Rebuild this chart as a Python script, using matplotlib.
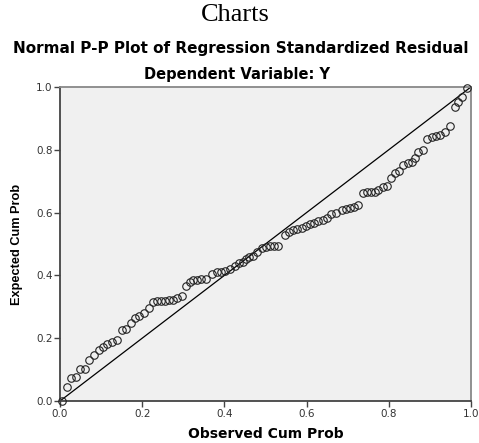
import matplotlib
matplotlib.use("Agg")
from matplotlib import pyplot as plt

# observed / expected cumulative probabilities
observed = [0.004, 0.017, 0.027, 0.039, 0.049, 0.061, 0.071, 0.083, 0.095, 0.105,
            0.115, 0.126, 0.138, 0.150, 0.161, 0.173, 0.182, 0.193, 0.204, 0.216,
            0.226, 0.236, 0.246, 0.255, 0.265, 0.275, 0.285, 0.296, 0.306, 0.316,
            0.324, 0.334, 0.344, 0.355, 0.371, 0.381, 0.392, 0.401, 0.414, 0.426,
            0.436, 0.445, 0.453, 0.461, 0.470, 0.480, 0.491, 0.501, 0.511, 0.521,
            0.531, 0.547, 0.558, 0.568, 0.577, 0.588, 0.598, 0.608, 0.618, 0.628,
            0.639, 0.650, 0.660, 0.672, 0.685, 0.696, 0.706, 0.715, 0.726, 0.738,
            0.747, 0.757, 0.766, 0.774, 0.785, 0.796, 0.805, 0.815, 0.826, 0.835,
            0.846, 0.856, 0.864, 0.872, 0.882, 0.894, 0.904, 0.915, 0.925, 0.937,
            0.949, 0.961, 0.969, 0.977, 0.990]
expected = [0.001, 0.045, 0.072, 0.076, 0.101, 0.103, 0.130, 0.146, 0.161, 0.173,
            0.182, 0.188, 0.195, 0.226, 0.228, 0.248, 0.264, 0.272, 0.280, 0.295,
            0.314, 0.317, 0.318, 0.319, 0.320, 0.322, 0.327, 0.335, 0.366, 0.380,
            0.385, 0.386, 0.388, 0.389, 0.403, 0.410, 0.411, 0.414, 0.420, 0.430,
            0.439, 0.444, 0.452, 0.460, 0.463, 0.475, 0.486, 0.490, 0.492, 0.494,
            0.495, 0.529, 0.539, 0.545, 0.548, 0.552, 0.557, 0.562, 0.567, 0.572,
            0.577, 0.583, 0.594, 0.600, 0.608, 0.611, 0.614, 0.617, 0.624, 0.663,
            0.667, 0.667, 0.667, 0.672, 0.682, 0.685, 0.709, 0.725, 0.733, 0.752,
            0.757, 0.762, 0.773, 0.792, 0.799, 0.833, 0.842, 0.845, 0.847, 0.858,
            0.876, 0.935, 0.951, 0.969, 0.995]
ticks = [0.0, 0.2, 0.4, 0.6, 0.8, 1.0]
tick_labels = ["0.0", "0.2", "0.4", "0.6", "0.8", "1.0"]

fig = plt.figure(figsize=(4.79, 4.43), dpi=100)
ax = fig.add_axes([0.1253, 0.0948, 0.858, 0.709])
ax.set_facecolor("#f0f0f0")

# reference line
ax.plot([0, 1], [0, 1], color="black", linewidth=0.9, zorder=2)
ax.plot(observed, expected, linestyle="none", marker="o", markersize=5.4,
        markerfacecolor="none", markeredgecolor="#222222", markeredgewidth=0.8,
        zorder=3, clip_on=False)

ax.set_xlim(0, 1)
ax.set_ylim(0, 1)
ax.set_xticks(ticks)
ax.set_xticklabels(tick_labels)
ax.set_yticks(ticks)
ax.set_yticklabels(tick_labels)
ax.tick_params(direction="out", length=4, width=1, color="#444444",
               labelsize=7.5, labelcolor="#333333", pad=1.5)

for side in ["left", "bottom"]:
    ax.spines[side].set_color("#444444")
    ax.spines[side].set_linewidth(1.3)
for side in ["top", "right"]:
    ax.spines[side].set_color("#888888")
    ax.spines[side].set_linewidth(1.3)

ax.set_xlabel("Observed Cum Prob", fontsize=10, fontweight="bold",
              family="DejaVu Sans", labelpad=6)
ax.set_ylabel("Expected Cum Prob", fontsize=9.2, fontweight="bold",
              family="Liberation Sans", labelpad=9)

fig.text(0.492, 1 - 15 / 443, "Charts", ha="center", va="center",
         fontsize=19, family="Liberation Serif")
fig.text(0.503, 1 - 49 / 443, "Normal P-P Plot of Regression Standardized Residual",
         ha="center", va="center", fontsize=11, fontweight="bold", family="DejaVu Sans")
fig.text(0.495, 1 - 74 / 443, "Dependent Variable: Y", ha="center", va="center",
         fontsize=10.5, fontweight="bold", family="DejaVu Sans")

fig.savefig("out.png", dpi=100)
